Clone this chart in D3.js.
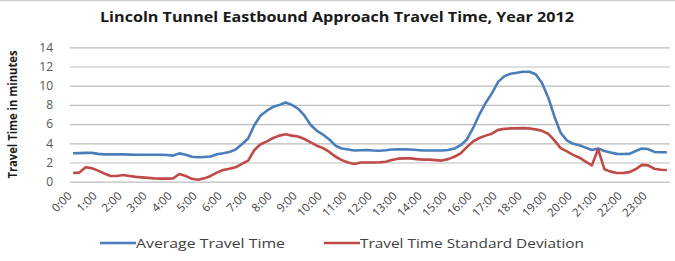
<!DOCTYPE html>
<html><head><meta charset="utf-8">
<script src="https://cdn.jsdelivr.net/npm/d3@7"></script>
<style>body{margin:0;background:#fff}svg{display:block}text{font-family:"Open Sans",Lato,sans-serif}</style>
</head><body>
<svg id="c" width="675" height="261"></svg>
<script>
const title = "Lincoln Tunnel Eastbound Approach Travel Time, Year 2012";
const yTitle = "Travel Time in minutes";
const seriesNames = ["Average Travel Time", "Travel Time Standard Deviation"];
const yTicks = [0, 2, 4, 6, 8, 10, 12, 14];
const hourLabels = d3.range(24).map(h => h + ":00");
const times = d3.range(96).map(i => Math.floor(i/4) + ":" + String((i%4)*15).padStart(2,"0"));
const avgTime = [2.96,2.98,3.0,3.0,2.9,2.85,2.85,2.85,2.85,2.82,2.8,2.8,2.8,2.8,2.8,2.78,
 2.72,2.95,2.8,2.6,2.55,2.58,2.62,2.85,2.96,3.1,3.35,3.9,4.5,5.9,6.9,7.4,
 7.8,8.0,8.25,8.0,7.6,6.9,5.9,5.3,4.9,4.4,3.75,3.45,3.35,3.25,3.28,3.3,
 3.25,3.23,3.28,3.35,3.37,3.37,3.35,3.3,3.25,3.25,3.25,3.25,3.3,3.45,3.8,4.4,
 5.6,7.0,8.2,9.2,10.4,11.0,11.25,11.35,11.45,11.45,11.2,10.3,8.8,6.8,5.1,4.3,
 3.95,3.8,3.55,3.3,3.45,3.2,3.05,2.9,2.88,2.9,3.2,3.45,3.4,3.1,3.06,3.06];
const stdDev = [0.9,0.95,1.5,1.4,1.15,0.85,0.6,0.6,0.7,0.6,0.5,0.45,0.4,0.35,0.32,0.32,
 0.35,0.8,0.6,0.3,0.2,0.35,0.6,0.95,1.22,1.35,1.5,1.85,2.2,3.3,3.9,4.2,
 4.55,4.8,4.95,4.8,4.7,4.45,4.1,3.75,3.5,3.1,2.6,2.25,2.0,1.85,2.0,2.0,
 2.0,2.02,2.08,2.25,2.4,2.43,2.43,2.35,2.3,2.3,2.25,2.2,2.35,2.6,2.95,3.6,
 4.2,4.55,4.8,5.0,5.4,5.5,5.55,5.55,5.58,5.55,5.45,5.3,5.0,4.3,3.5,3.15,
 2.8,2.5,2.1,1.7,3.4,1.3,1.05,0.9,0.9,1.0,1.3,1.75,1.7,1.35,1.25,1.22];
const colors = ["#4a7ebb", "#be4b48"];

const svg = d3.select("#c");
const L = 70, R = 670, T = 47.3, B = 181.7;
const x = d3.scalePoint().domain(times).range([L, R]).padding(0.5);
const y = d3.scaleLinear().domain([0, 14]).range([B, T]);

svg.append("line").attr("x1",0).attr("x2",675).attr("y1",0.5).attr("y2",0.5).attr("stroke","#d0d0d0").attr("stroke-width",1.5);

svg.append("text").attr("x", 337).attr("y", 22).attr("text-anchor","middle")
  .attr("font-size", 14).attr("font-weight","bold").attr("fill","#1a1a1a")
  .attr("textLength", 474).attr("lengthAdjust","spacingAndGlyphs").text(title);

// gridlines
const yAxis = d3.axisLeft(y).tickValues(yTicks).tickSize(-(R - L)).tickPadding(17);
const gy = svg.append("g").attr("transform", `translate(${L},0)`).call(yAxis);
gy.select(".domain").remove();
gy.selectAll(".tick line").attr("stroke","#bdbdbd").attr("stroke-width",1.2);
gy.selectAll(".tick text").attr("font-size",12).attr("fill","#555").attr("font-family","'Open Sans',sans-serif");

// x axis labels
const xAxis = d3.axisBottom(x).tickValues(times.filter((t,i)=>i%4===0)).tickSize(0).tickFormat(t => t);
const gx = svg.append("g").attr("transform", `translate(0,${B})`).call(xAxis);
gx.select(".domain").remove();
gx.selectAll(".tick text").attr("font-size",11.5).attr("fill","#404040").attr("font-family","'Open Sans',sans-serif")
  .attr("text-anchor","end").attr("dy",0).attr("y",0)
  .attr("transform","translate(-1,15) rotate(-45)");

svg.append("text").attr("transform",`translate(17,${(T+B)/2}) rotate(-90)`).attr("text-anchor","middle")
  .attr("font-size",12).attr("font-weight","bold").attr("fill","#1a1a1a")
  .attr("textLength",128).attr("lengthAdjust","spacingAndGlyphs").text(yTitle);

const line = d3.line().x((d,i)=>x(times[i])).y(d=>y(d)).curve(d3.curveLinear);
[avgTime, stdDev].forEach((s,k)=>{
  svg.append("path").datum(s).attr("d", line).attr("fill","none")
    .attr("stroke", colors[k]).attr("stroke-width",2.6).attr("stroke-linejoin","round");
});

// legend
const lg = [{x:100, tx:136, w:149}, {x:324, tx:360, w:224}];
seriesNames.forEach((n,k)=>{
  svg.append("line").attr("x1",lg[k].x).attr("x2",lg[k].x+36).attr("y1",243).attr("y2",243)
    .attr("stroke",colors[k]).attr("stroke-width",2.6);
  svg.append("text").attr("x",lg[k].tx).attr("y",247.5).attr("font-size",12.5).attr("fill","#404040")
    .attr("textLength",lg[k].w).attr("lengthAdjust","spacingAndGlyphs").text(n);
});
</script>
</body></html>
